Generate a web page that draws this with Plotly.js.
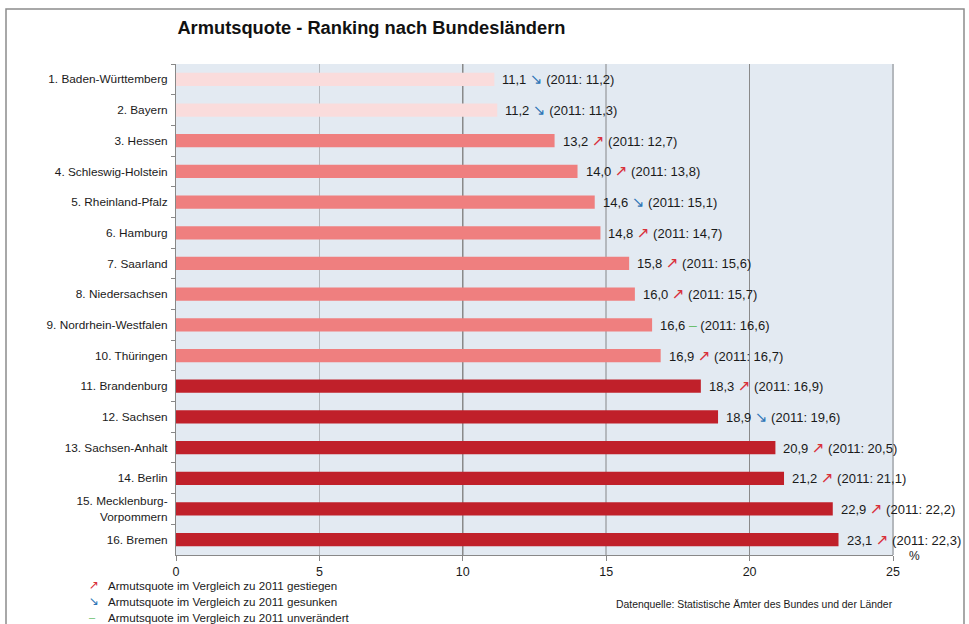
<!DOCTYPE html>
<html>
<head>
<meta charset="utf-8">
<script src="https://cdn.plot.ly/plotly-3.0.1.min.js"></script>
<style>
  html, body { margin: 0; padding: 0; background: #ffffff; }
  #chart { width: 969px; height: 624px; }
</style>
</head>
<body>
<div id="chart"></div>
<script>
// ---- data ----
const laender = [
  "1. Baden-Württemberg", "2. Bayern", "3. Hessen", "4. Schleswig-Holstein",
  "5. Rheinland-Pfalz", "6. Hamburg", "7. Saarland", "8. Niedersachsen",
  "9. Nordrhein-Westfalen", "10. Thüringen", "11. Brandenburg", "12. Sachsen",
  "13. Sachsen-Anhalt", "14. Berlin", "15. Mecklenburg-<br>Vorpommern", "16. Bremen"
];
const quote2012 = [11.1, 11.2, 13.2, 14.0, 14.6, 14.8, 15.8, 16.0, 16.6, 16.9, 18.3, 18.9, 20.9, 21.2, 22.9, 23.1];
const quote2011 = [11.2, 11.3, 12.7, 13.8, 15.1, 14.7, 15.6, 15.7, 16.6, 16.7, 16.9, 19.6, 20.5, 21.1, 22.2, 22.3];
const xTicks = [0, 5, 10, 15, 20, 25];
const legendTexts = [
  "Armutsquote im Vergleich zu 2011 gestiegen",
  "Armutsquote im Vergleich zu 2011 gesunken",
  "Armutsquote im Vergleich zu 2011 unverändert"
];
const titleText = "Armutsquote - Ranking nach Bundesländern";
const sourceText = "Datenquelle: Statistische Ämter des Bundes und der Länder";

// ---- styles ----
const FONT = "Liberation Sans, Arial, sans-serif";
const colLight = "#fadcdc", colMid = "#ef7f7f", colDark = "#c0202a";
const upCol = "#d9313a", downCol = "#2e75b6", sameCol = "#6cbf6f";
const arrowUp = "\u2197", arrowDown = "\u2198", arrowSame = "\u2013";

const fmt = v => v.toFixed(1).replace(".", ",");
function barColor(v) { return v < 12 ? colLight : (v < 18 ? colMid : colDark); }
function sym(kind, size) {
  const s = size || 15;
  if (kind === "up") return `<span style="color:${upCol};font-family:DejaVu Sans;font-size:${s}px">${arrowUp}</span>`;
  if (kind === "down") return `<span style="color:${downCol};font-family:DejaVu Sans;font-size:${s}px">${arrowDown}</span>`;
  return `<span style="color:${sameCol};font-size:${s - 1}px">${arrowSame}</span>`;
}
function trend(now, prev) {
  return sym(now > prev ? "up" : (now < prev ? "down" : "same"));
}

const trace = {
  type: "bar",
  orientation: "h",
  x: quote2012,
  y: laender,
  marker: { color: quote2012.map(barColor), line: { width: 0 } },
  hoverinfo: "x+y"
};

const annotations = quote2012.map((v, i) => ({
  xref: "x", yref: "y",
  x: v, y: laender[i],
  xanchor: "left", yanchor: "middle",
  xshift: 6,
  showarrow: false,
  text: `${fmt(v)} ${trend(v, quote2011[i])} (2011: ${fmt(quote2011[i])})`,
  font: { family: FONT, size: 13, color: "#1a1a1a" }
}));

// % unit label
annotations.push({
  xref: "paper", yref: "paper", x: (907 - 176) / 717, y: 1 - (556 - 64) / 491,
  xanchor: "left", yanchor: "middle",
  showarrow: false, text: "%",
  font: { family: FONT, size: 12, color: "#1a1a1a" }
});

// legend-like explanations
const legKinds = ["up", "down", "same"];
legendTexts.forEach((t, i) => {
  const ypx = 585 + i * 16;
  const yp = 1 - (ypx - 64) / 491;
  annotations.push({
    xref: "paper", yref: "paper", x: (87 - 176) / 717, y: yp,
    xanchor: "left", yanchor: "middle", showarrow: false,
    text: sym(legKinds[i], 12), font: { family: FONT, size: 11 }
  });
  annotations.push({
    xref: "paper", yref: "paper", x: (106 - 176) / 717, y: yp,
    xanchor: "left", yanchor: "middle", showarrow: false,
    text: t, font: { family: FONT, size: 11.6, color: "#1a1a1a" }
  });
});

annotations.push({
  xref: "paper", yref: "paper", x: (614 - 176) / 717, y: 1 - (604 - 64) / 491,
  xanchor: "left", yanchor: "middle", showarrow: false,
  text: sourceText, font: { family: FONT, size: 10.4, color: "#1a1a1a" }
});

const layout = {
  width: 969, height: 624,
  margin: { l: 176, r: 76, t: 64, b: 69, pad: 0 },
  paper_bgcolor: "#ffffff",
  plot_bgcolor: "#e3eaf2",
  showlegend: false,
  bargap: 0.57,
  title: {
    text: titleText,
    font: { family: FONT, size: 18.3, color: "#111", weight: "bold" },
    xref: "paper", x: 0.002, xanchor: "left",
    yref: "container", y: 1 - 28 / 624, yanchor: "middle"
  },
  xaxis: {
    range: [0, 25],
    tickvals: xTicks,
    ticktext: xTicks.map(String),
    ticks: "outside", ticklen: 5, tickcolor: "#888",
    showline: true, linecolor: "#888", linewidth: 1,
    showgrid: true, gridcolor: "#b4b8bd", gridwidth: 1.5,
    zeroline: false,
    tickfont: { family: FONT, size: 12.5, color: "#1a1a1a" },
    fixedrange: true
  },
  xaxis2: {
    overlaying: "x", range: [0, 25], tickvals: [10, 20],
    showticklabels: false, ticks: "", showline: false,
    showgrid: true, gridcolor: "#8a8a8a", gridwidth: 1,
    zeroline: false, side: "bottom", layer: "below traces"
  },
  yaxis: {
    autorange: "reversed",
    type: "category",
    ticks: "outside", ticklen: 4, tickcolor: "#888", tickson: "boundaries",
    ticklabelstandoff: 5,
    showline: true, linecolor: "#888", linewidth: 1,
    showgrid: false, zeroline: false,
    tickfont: { family: FONT, size: 11.8, color: "#1a1a1a" },
    fixedrange: true
  },
  annotations: annotations,
  shapes: [
    {
      type: "rect", xref: "paper", yref: "paper",
      x0: (6 - 176) / 717, x1: (964 - 176) / 717,
      y0: 1 - (640 - 64) / 491, y1: 1 + (64 - 9) / 491,
      line: { color: "#8c8c8c", width: 1.5 }, fillcolor: "rgba(0,0,0,0)",
      layer: "below"
    },
    {
      type: "line", xref: "paper", yref: "paper",
      x0: 1, x1: 1, y0: 0, y1: 1,
      line: { color: "#b4b8bd", width: 2 }
    }
  ]
};

// empty trace to activate xaxis2 for darker gridlines
const gridTrace = { type: "scatter", x: [], y: [], xaxis: "x2", yaxis: "y", hoverinfo: "skip" };

Plotly.newPlot("chart", [gridTrace, trace], layout, { displayModeBar: false, staticPlot: true });
</script>
</body>
</html>
